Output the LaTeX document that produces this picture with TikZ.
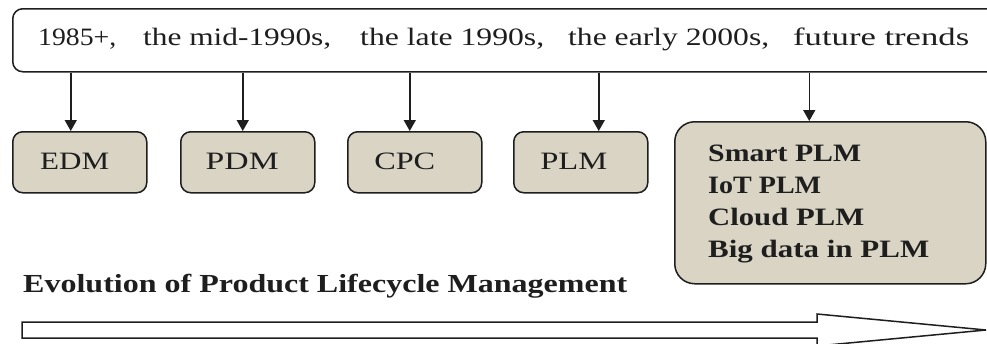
\documentclass[tikz,border=0pt]{standalone}
\usepackage{fontspec}
\setmainfont{Liberation Serif}
\usetikzlibrary{arrows.meta}
\definecolor{boxfill}{RGB}{217,212,196}
\definecolor{ink}{RGB}{30,30,30}
\newcommand{\wfit}[2]{\resizebox{#1}{\height}{#2}}
\tikzset{
  stagebox/.style={draw=ink, line width=1.5pt, fill=boxfill, rounded corners=10pt, minimum width=134pt, minimum height=61pt, inner sep=0pt, font=\fontsize{25}{28}\selectfont, text=ink},
  arr/.style={draw=ink, line width=1.5pt, -{Triangle[width=12pt,length=11pt]}},
  era/.style={anchor=base west, inner sep=0pt, font=\fontsize{25}{28}\selectfont, text=ink},
}
\begin{document}
\begin{tikzpicture}[x=1pt,y=-1pt]
\clip (0,0) rectangle (987,343);
\fill[white] (0,0) rectangle (987,343);
% top box
\node[draw=ink, line width=1.5pt, rounded corners=10pt, minimum width=1000pt, minimum height=63pt, anchor=north west, inner sep=0pt] (top) at (12,8) {};
\node[era] (e1) at (38,45) {\wfit{78pt}{1985+,}};
\node[era] (e2) at (143,45) {\wfit{188pt}{the mid-1990s,}};
\node[era] (e3) at (360,45) {\wfit{184pt}{the late 1990s,}};
\node[era] (e4) at (568,45) {\wfit{201pt}{the early 2000s,}};
\node[era] (e5) at (793,45) {\wfit{176pt}{future trends}};
% stage boxes
\node[stagebox, anchor=north west] (edm) at (12,131) {\raisebox{1.5pt}{\wfit{69pt}{EDM}}\hspace*{10pt}};
\node[stagebox, anchor=north west] (pdm) at (180,131) {\raisebox{1.5pt}{\wfit{73pt}{PDM}}\hspace*{11pt}};
\node[stagebox, anchor=north west] (cpc) at (347,131) {\raisebox{1.5pt}{\wfit{61pt}{CPC}}\hspace*{20pt}};
\node[stagebox, anchor=north west] (plm) at (513,131) {\raisebox{1.5pt}{\wfit{67pt}{PLM}}\hspace*{14pt}};
\node[draw=ink, line width=1.5pt, fill=boxfill, rounded corners=20pt, minimum width=311pt, minimum height=162pt, anchor=north west, inner sep=0pt] (fut) at (674,121) {};
\node[anchor=base west, inner sep=0pt, align=left, text=ink, font=\bfseries\fontsize{25}{32}\selectfont] (futtxt) at (708,257) {\wfit{153pt}{Smart PLM}\\\wfit{113pt}{IoT PLM}\\\wfit{156pt}{Cloud PLM}\\\wfit{221pt}{Big data in PLM}};
% arrows
\draw[arr] ([xshift=-9pt]edm.north |- top.south) -- ([xshift=-9pt]edm.north);
\draw[arr] ([xshift=-5pt]pdm.north |- top.south) -- ([xshift=-5pt]pdm.north);
\draw[arr] ([xshift=-5pt]cpc.north |- top.south) -- ([xshift=-5pt]cpc.north);
\draw[arr] ([xshift=18pt]plm.north |- top.south) -- ([xshift=18pt]plm.north);
\draw[arr] ([xshift=-21pt]fut.north |- top.south) -- ([xshift=-21pt]fut.north);
% title
\node[anchor=base west, inner sep=0pt, text=ink, font=\bfseries\fontsize{26}{28}\selectfont] (title) at (23,292) {\wfit{604pt}{Evolution of Product Lifecycle Management}};
% big arrow
\coordinate (tail) at (22,330);
\coordinate (tip) at (986,330);
\draw[draw=ink, line width=1.5pt, fill=white] ([yshift=8pt]tail) -- (817,322) -- (817,314) -- (tip) -- (817,346) -- (817,338) -- ([yshift=-8pt]tail) -- cycle;
\end{tikzpicture}
\end{document}
